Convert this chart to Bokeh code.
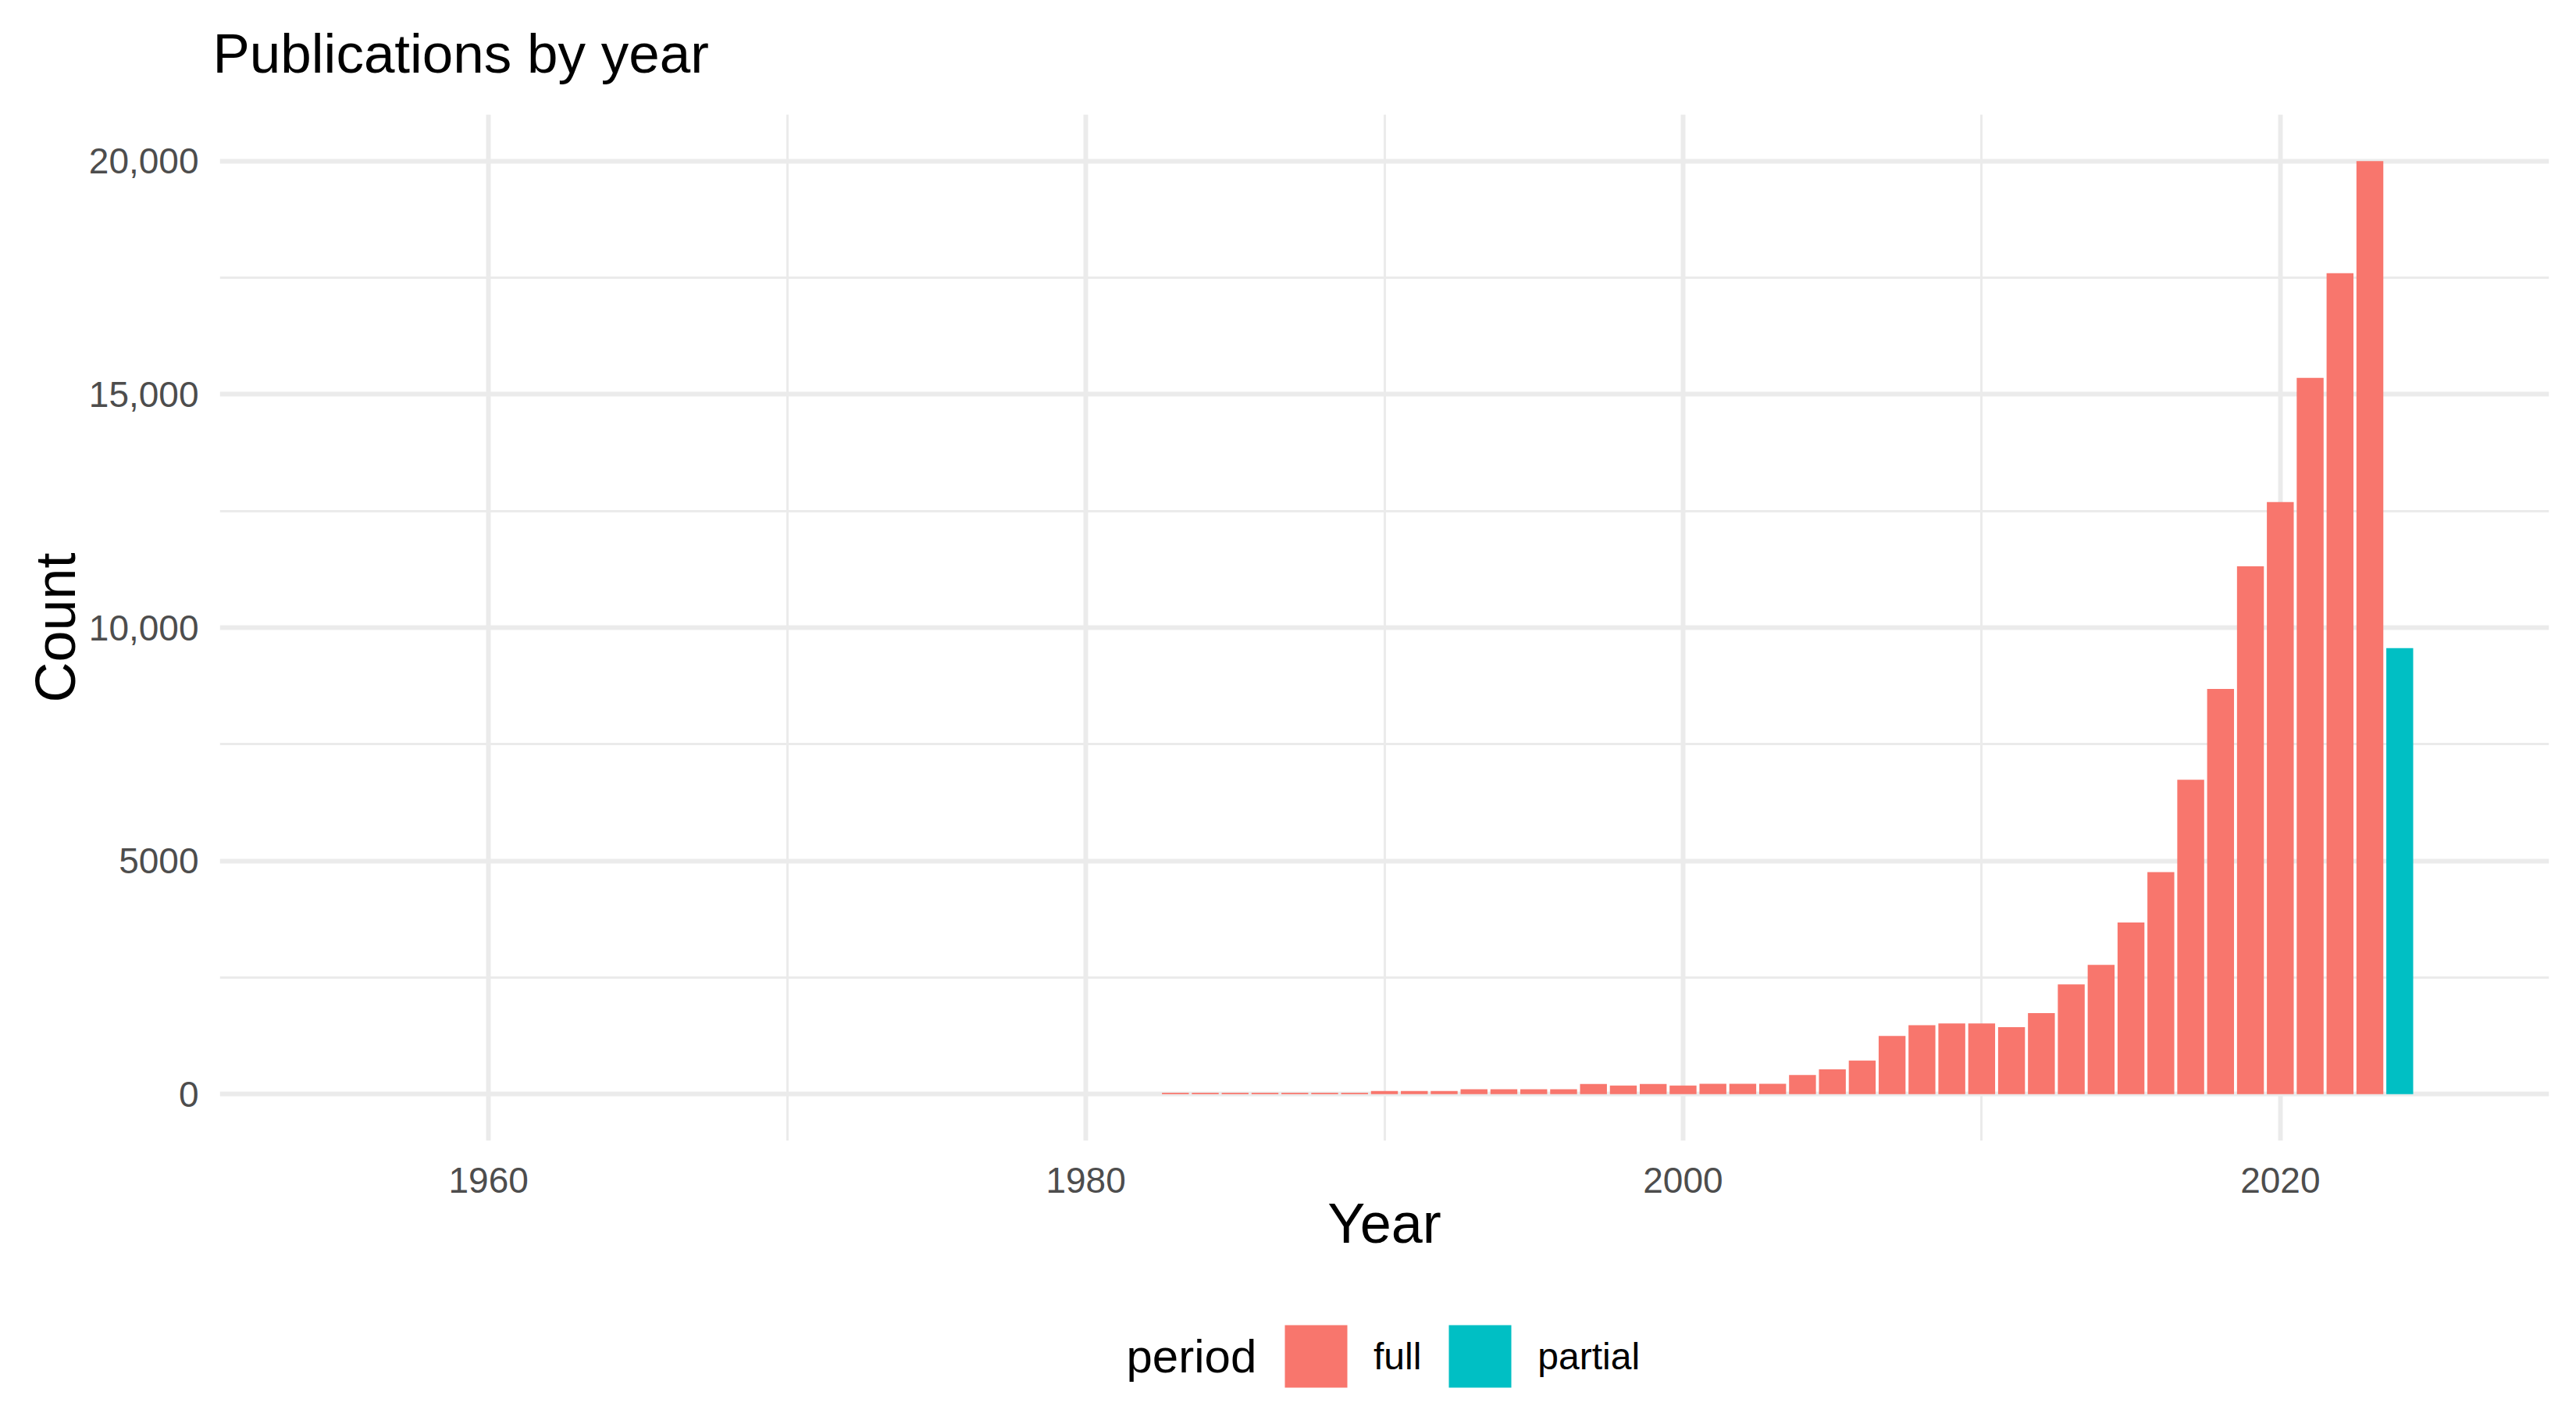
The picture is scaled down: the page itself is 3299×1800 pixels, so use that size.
from bokeh.plotting import figure
from bokeh.layouts import column
from bokeh.models import ColumnDataSource, Range1d, FixedTicker, Legend, LegendItem, Label
from bokeh.embed import file_html
from bokeh.resources import INLINE

# ---- data ----
years_full = list(range(1983, 2024))
counts_full = [28, 28, 28, 28, 28, 28, 28,
               67, 67, 67,
               106, 106, 106, 106,
               217, 184, 217, 184,
               223, 223, 223,
               412, 530, 719, 1249, 1477, 1516, 1516, 1438, 1739, 2352,
               2770, 3679, 4760, 6741, 8686, 11314, 12692, 15353, 17596, 20000]
years_partial = [2024]
counts_partial = [9562]

x_ticks = [1960, 1980, 2000, 2020]
x_minor = [1950, 1970, 1990, 2010, 2030]
y_ticks = [0, 5000, 10000, 15000, 20000]
y_tick_labels = ["0", "5000", "10,000", "15,000", "20,000"]
y_minor = [2500, 7500, 12500, 17500]

period_labels = ["full", "partial"]
period_colors = ["#F8766D", "#00BFC4"]

FONT = "Liberation Sans"
GRID = "#EBEBEB"

W = 3299
H_TITLE, H_MAIN, H_LEG = 146, 1504, 150


def blank_fig(h):
    f = figure(width=W, height=h, output_backend="svg", toolbar_location=None,
               x_range=Range1d(0, W), y_range=Range1d(0, h),
               x_axis_type=None, y_axis_type=None, frame_align=False,
               min_border_left=0, min_border_right=0, min_border_top=0, min_border_bottom=0)
    f.grid.visible = False
    f.outline_line_color = None
    f.background_fill_color = "white"
    f.border_fill_color = "white"
    return f


# ---- title strip ----
tfig = blank_fig(H_TITLE)
tfig.add_layout(Label(x=272, y=78, text="Publications by year",
                      text_font=FONT, text_font_size="71px", text_color="black",
                      text_baseline="alphabetic", text_align="left"))

# ---- main chart ----
p = figure(width=W, height=H_MAIN, output_backend="svg", toolbar_location=None,
           x_range=Range1d(1951, 2029), y_range=Range1d(-1000, 21000), frame_align=False,
           min_border_left=281, min_border_right=35, min_border_top=0, min_border_bottom=190)
p.background_fill_color = "white"
p.border_fill_color = "white"
p.outline_line_color = None

src_full = ColumnDataSource(dict(x=years_full, top=counts_full))
src_part = ColumnDataSource(dict(x=years_partial, top=counts_partial))
p.vbar(x="x", top="top", width=0.9, bottom=0, source=src_full,
       fill_color=period_colors[0], line_color=None)
p.vbar(x="x", top="top", width=0.9, bottom=0, source=src_part,
       fill_color=period_colors[1], line_color=None)

p.xaxis.ticker = FixedTicker(ticks=x_ticks, minor_ticks=x_minor)
p.yaxis.ticker = FixedTicker(ticks=y_ticks, minor_ticks=y_minor)
p.yaxis.major_label_overrides = {t: l for t, l in zip(y_ticks, y_tick_labels)}
for ax in (p.xaxis[0], p.yaxis[0]):
    ax.axis_line_color = None
    ax.major_tick_line_color = None
    ax.minor_tick_line_color = None
    ax.major_tick_out = 0
    ax.major_tick_in = 0
    ax.major_label_text_font = FONT
    ax.major_label_text_font_size = "46px"
    ax.major_label_text_color = "#4D4D4D"
    ax.axis_label_text_font = FONT
    ax.axis_label_text_font_size = "72px"
    ax.axis_label_text_font_style = "normal"
    ax.axis_label_text_color = "black"
p.xaxis.axis_label = "Year"
p.yaxis.axis_label = "Count"
p.xaxis.major_label_standoff = 30
p.yaxis.major_label_standoff = 23
p.xaxis.axis_label_standoff = -4
p.yaxis.axis_label_standoff = 0

for g in (p.xgrid[0], p.ygrid[0]):
    g.grid_line_color = GRID
    g.grid_line_width = 6
    g.minor_grid_line_color = GRID
    g.minor_grid_line_width = 3

# ---- legend strip ----
lfig = blank_fig(H_LEG)
items = []
for lab, col in zip(period_labels, period_colors):
    # proxy renderer (kept outside the visible range) that only supplies the legend swatch
    proxy = ColumnDataSource(dict(x=[-1000], top=[0]))
    r = lfig.vbar(x="x", top="top", width=1, source=proxy, fill_color=col, line_color=None)
    items.append(LegendItem(label=lab, renderers=[r]))
legend = Legend(items=items, orientation="horizontal", location=(1635, 14),
                glyph_width=100, glyph_height=100, label_standoff=24, spacing=25,
                padding=0, margin=0, border_line_color=None, background_fill_alpha=0,
                label_text_font=FONT, label_text_font_size="48px", label_text_color="black")
lfig.add_layout(legend)
lfig.add_layout(Label(x=1442, y=64, text="period",
                      text_font=FONT, text_font_size="60px", text_color="black",
                      text_baseline="middle", text_align="left"))

layout = column(tfig, p, lfig, spacing=0)
open("out.html", "w").write(file_html(layout, INLINE))
